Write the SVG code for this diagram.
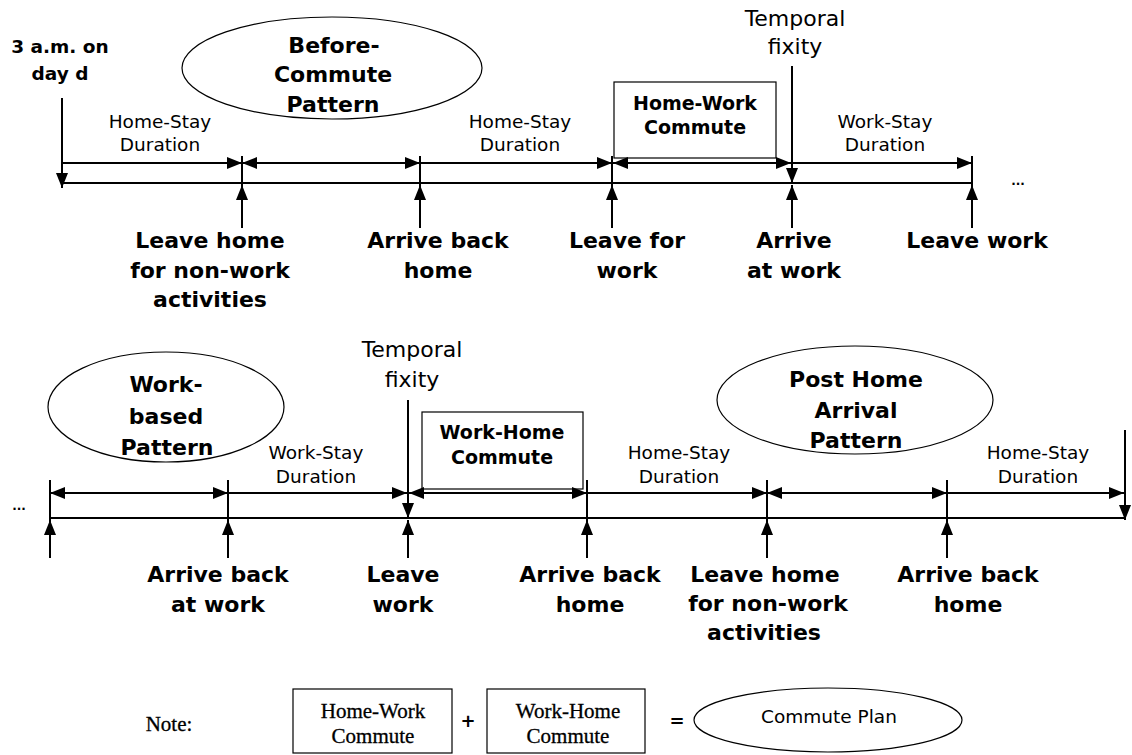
<svg xmlns="http://www.w3.org/2000/svg" width="1132" height="755" viewBox="0 0 1132 755">
<style>
.b{font-family:"DejaVu Sans",Verdana,sans-serif;font-weight:bold;font-size:22px;text-anchor:middle;fill:#000}
.bx{font-family:"DejaVu Sans",Verdana,sans-serif;font-weight:bold;font-size:19px;text-anchor:middle;fill:#000}
.r{font-family:"DejaVu Sans",Verdana,sans-serif;font-size:18.5px;text-anchor:middle;fill:#000}
.t{font-family:"DejaVu Sans",Verdana,sans-serif;font-size:22px;text-anchor:middle;fill:#000}
.s{font-family:"Liberation Serif","Times New Roman",serif;font-size:21px;text-anchor:middle;fill:#000;stroke:#000;stroke-width:0.3}
.sh{fill:#fff;stroke:#000;stroke-width:1.2}
.ln{stroke:#000;stroke-width:2;fill:none}
.ar{stroke:#000;stroke-width:2;fill:none;marker-end:url(#ah)}
.da{stroke:#000;stroke-width:2;fill:none;marker-start:url(#ah);marker-end:url(#ah)}
</style>
<defs>
<marker id="ah" markerWidth="15" markerHeight="12" refX="15" refY="6" orient="auto-start-reverse" markerUnits="userSpaceOnUse"><path d="M0,0 L15,6 L0,12 z" fill="#000"/></marker>
</defs>
<rect width="1132" height="755" fill="#fff"/>

<g id="before-commute-pattern">
<ellipse class="sh" cx="332" cy="68" rx="150" ry="51"/>
<text class="b" x="334" y="53">Before-</text>
<text class="b" x="333" y="82">Commute</text>
<text class="b" x="333" y="112">Pattern</text>
</g>
<g id="home-work-commute-top">
<rect class="sh" x="614" y="82" width="162" height="76"/>
<text class="bx" x="695" y="110">Home-Work</text>
<text class="bx" x="695" y="134">Commute</text>
</g>
<g id="work-based-pattern">
<ellipse class="sh" cx="166" cy="407" rx="118" ry="55"/>
<text class="b" x="166" y="392">Work-</text>
<text class="b" x="166" y="424">based</text>
<text class="b" x="167" y="455">Pattern</text>
</g>
<g id="work-home-commute-bottom">
<rect class="sh" x="422" y="412" width="161" height="77"/>
<text class="bx" x="502" y="439">Work-Home</text>
<text class="bx" x="502" y="464">Commute</text>
</g>
<g id="post-home-arrival-pattern">
<ellipse class="sh" cx="855" cy="400" rx="138" ry="54"/>
<text class="b" x="856" y="387">Post Home</text>
<text class="b" x="856" y="418">Arrival</text>
<text class="b" x="856" y="448">Pattern</text>
</g>

<g id="top-labels">
<text class="b" style="font-size:18.5px" x="60" y="53">3 a.m. on</text>
<text class="b" style="font-size:18.5px" x="60" y="80">day d</text>
<text class="r" x="160" y="128">Home-Stay</text>
<text class="r" x="160" y="151">Duration</text>
<text class="r" x="520" y="128">Home-Stay</text>
<text class="r" x="520" y="151">Duration</text>
<text class="r" x="885" y="128">Work-Stay</text>
<text class="r" x="885" y="151">Duration</text>
<text class="t" x="795" y="26">Temporal</text>
<text class="t" x="795" y="54">fixity</text>
<text class="b" x="210" y="248">Leave home</text>
<text class="b" x="210" y="278">for non-work</text>
<text class="b" x="210" y="307">activities</text>
<text class="b" x="438" y="248">Arrive back</text>
<text class="b" x="438" y="278">home</text>
<text class="b" x="627" y="248">Leave for</text>
<text class="b" x="627" y="278">work</text>
<text class="b" x="794" y="248">Arrive</text>
<text class="b" x="794" y="278">at work</text>
<text class="b" x="977" y="248">Leave work</text>
<text class="b" style="font-size:12px" x="1018" y="185">...</text>
</g>

<g id="bottom-labels">
<text class="b" style="font-size:12px" x="19" y="510">...</text>
<text class="t" x="412" y="357">Temporal</text>
<text class="t" x="412" y="387">fixity</text>
<text class="r" x="316" y="459">Work-Stay</text>
<text class="r" x="316" y="483">Duration</text>
<text class="r" x="679" y="459">Home-Stay</text>
<text class="r" x="679" y="483">Duration</text>
<text class="r" x="1038" y="459">Home-Stay</text>
<text class="r" x="1038" y="483">Duration</text>
<text class="b" x="218" y="582">Arrive back</text>
<text class="b" x="218" y="612">at work</text>
<text class="b" x="403" y="582">Leave</text>
<text class="b" x="403" y="612">work</text>
<text class="b" x="590" y="582">Arrive back</text>
<text class="b" x="590" y="612">home</text>
<text class="b" x="765" y="582">Leave home</text>
<text class="b" x="768" y="611">for non-work</text>
<text class="b" x="764" y="640">activities</text>
<text class="b" x="968" y="582">Arrive back</text>
<text class="b" x="968" y="612">home</text>
</g>

<g id="note">
<text class="s" style="font-size:21px" x="169" y="731">Note:</text>
<rect class="sh" x="293" y="689" width="159" height="64"/>
<text class="s" x="373" y="718">Home-Work</text>
<text class="s" x="373" y="743">Commute</text>
<text class="b" style="font-size:18px" x="468" y="727">+</text>
<rect class="sh" x="487" y="689" width="158" height="64"/>
<text class="s" x="568" y="718">Work-Home</text>
<text class="s" x="568" y="743">Commute</text>
<text class="b" style="font-size:18px" x="677" y="727">=</text>
<ellipse class="sh" cx="828" cy="720" rx="134" ry="32"/>
<text class="r" x="829" y="723">Commute Plan</text>
</g>

<g id="connectors">
<!-- top timeline -->
<line class="ln" x1="62" y1="183" x2="973" y2="183"/>
<line class="ar" x1="62" y1="98" x2="62" y2="188"/>
<line class="ar" x1="62" y1="163" x2="242" y2="163"/>
<line class="da" x1="242" y1="163" x2="420" y2="163"/>
<line class="ar" x1="420" y1="163" x2="612" y2="163"/>
<line class="da" x1="613" y1="163" x2="791" y2="163"/>
<line class="ar" x1="792" y1="163" x2="972" y2="163"/>
<line class="ar" x1="792" y1="66" x2="792" y2="183"/>
<line class="ar" x1="792" y1="228" x2="792" y2="185"/>
<line class="ln" x1="242" y1="156" x2="242" y2="228"/>
<line class="ar" x1="242" y1="228" x2="242" y2="185"/>
<line class="ln" x1="420" y1="156" x2="420" y2="228"/>
<line class="ar" x1="420" y1="228" x2="420" y2="185"/>
<line class="ln" x1="612" y1="156" x2="612" y2="228"/>
<line class="ar" x1="612" y1="228" x2="612" y2="185"/>
<line class="ln" x1="972" y1="156" x2="972" y2="228"/>
<line class="ar" x1="972" y1="228" x2="972" y2="185"/>
<!-- bottom timeline -->
<line class="ln" x1="50" y1="518" x2="1124" y2="518"/>
<line class="da" x1="50" y1="493" x2="228" y2="493"/>
<line class="ar" x1="228" y1="493" x2="407" y2="493"/>
<line class="da" x1="409" y1="493" x2="587" y2="493"/>
<line class="ar" x1="587" y1="493" x2="767" y2="493"/>
<line class="da" x1="767" y1="493" x2="947" y2="493"/>
<line class="ar" x1="947" y1="493" x2="1124" y2="493"/>
<line class="ar" x1="408" y1="400" x2="408" y2="518"/>
<line class="ar" x1="408" y1="558" x2="408" y2="520"/>
<line class="ar" x1="1125" y1="430" x2="1125" y2="520"/>
<line class="ln" x1="50" y1="480" x2="50" y2="558"/>
<line class="ar" x1="50" y1="558" x2="50" y2="520"/>
<line class="ln" x1="228" y1="480" x2="228" y2="558"/>
<line class="ar" x1="228" y1="558" x2="228" y2="520"/>
<line class="ln" x1="587" y1="480" x2="587" y2="558"/>
<line class="ar" x1="587" y1="558" x2="587" y2="520"/>
<line class="ln" x1="767" y1="480" x2="767" y2="558"/>
<line class="ar" x1="767" y1="558" x2="767" y2="520"/>
<line class="ln" x1="947" y1="480" x2="947" y2="558"/>
<line class="ar" x1="947" y1="558" x2="947" y2="520"/>
</g>
</svg>
